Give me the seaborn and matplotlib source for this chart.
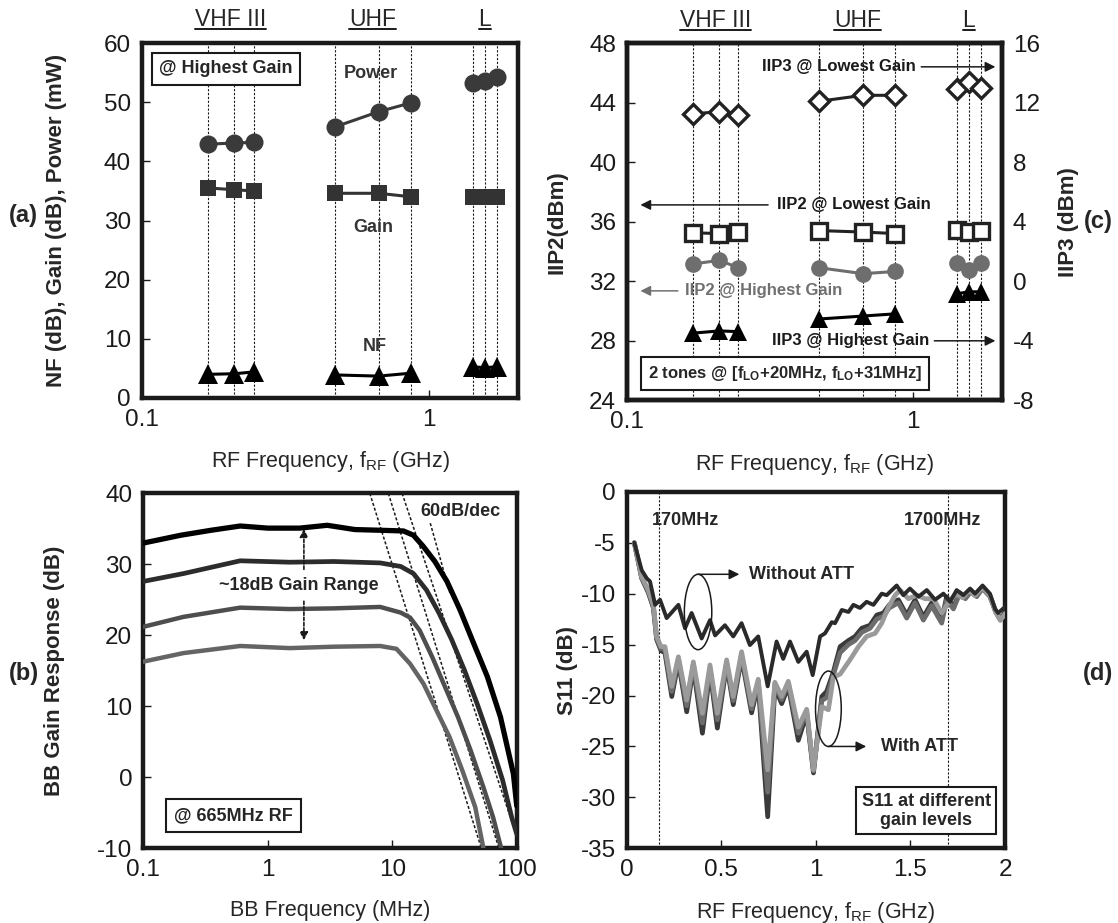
import numpy as np
import pandas as pd
import matplotlib
matplotlib.use('Agg')
import matplotlib.pyplot as plt
from matplotlib.lines import Line2D
from matplotlib.patches import Ellipse
import seaborn as sns

# ---------------- data ----------------
band_names = ['VHF III', 'UHF', 'L']
band_freq = [[0.17, 0.21, 0.245], [0.47, 0.67, 0.87], [1.43, 1.57, 1.73]]

# (a) @ highest gain
power_mw = [[42.9, 43.1, 43.2], [45.8, 48.4, 49.9], [53.3, 53.5, 54.3]]
gain_db = [[35.5, 35.2, 35.0], [34.6, 34.6, 34.0], [33.9, 33.9, 34.0]]
nf_db = [[4.0, 4.1, 4.4], [3.9, 3.7, 4.2], [5.3, 5.1, 5.3]]

# (c) linearity
iip3_lowest = [[11.25, 11.4, 11.2], [12.1, 12.5, 12.5], [12.9, 13.4, 13.0]]
iip2_lowest = [[35.25, 35.2, 35.3], [35.4, 35.3, 35.2], [35.45, 35.3, 35.4]]
iip2_highest = [[33.15, 33.4, 32.9], [32.9, 32.5, 32.65], [33.25, 32.75, 33.25]]
iip3_highest = [[-3.5, -3.35, -3.4], [-2.55, -2.35, -2.2], [-0.85, -0.72, -0.72]]

# (b) BB gain response, 4 gain settings
bb_f_1 = [0.1, 0.2, 0.35, 0.6, 1.0, 1.8, 3.0, 5.0, 8.0, 12.3, 14.8, 17.8, 22.0, 27.5, 35.0, 45.0, 58.0, 74.0, 94.0, 100.0]
bb_g_1 = [33.0, 34.1, 34.8, 35.4, 35.1, 35.1, 35.5, 34.9, 34.8, 34.7, 34.1, 32.5, 30.4, 27.6, 23.6, 18.9, 14.2, 8.5, 0.5, -4.0]
bb_f_2 = [0.1, 0.21, 0.6, 1.5, 3.4, 8.0, 11.7, 14.8, 18.8, 23.8, 30.0, 38.0, 48.0, 61.0, 77.0, 91.0, 100.0]
bb_g_2 = [27.6, 28.7, 30.5, 30.3, 30.4, 30.2, 29.7, 28.7, 26.4, 23.1, 19.4, 15.1, 10.4, 5.2, -0.4, -5.6, -8.0]
bb_f_3 = [0.1, 0.21, 0.6, 1.5, 3.4, 8.0, 11.7, 13.9, 16.6, 21.0, 26.6, 33.7, 42.6, 54.0, 64.5, 75.0]
bb_g_3 = [21.2, 22.6, 23.9, 23.7, 23.8, 24.0, 23.2, 22.5, 20.7, 16.9, 12.7, 8.5, 3.8, -1.4, -5.6, -10.0]
bb_f_4 = [0.1, 0.21, 0.6, 1.5, 3.4, 8.0, 10.8, 13.9, 17.8, 22.7, 28.8, 36.5, 46.4, 54.0]
bb_g_4 = [16.3, 17.5, 18.5, 18.2, 18.4, 18.5, 18.1, 16.0, 13.2, 9.4, 5.7, 1.0, -4.2, -10.0]
# 60dB/dec guide lines: start and end points
slope_f = [[6.6, 52.0], [9.3, 72.0], [12.0, 100.0], [20.2, 29.0]]
slope_g = [[40.0, -10.0], [40.0, -10.0], [40.0, -8.3], [35.8, 26.0]]

# (d) S11
s11_f_wo = [0.04, 0.079, 0.106, 0.123, 0.15, 0.176, 0.211, 0.273, 0.308, 0.343, 0.396, 0.44, 0.467, 0.519,
            0.563, 0.607, 0.651, 0.695, 0.745, 0.792, 0.827, 0.863, 0.907, 0.951, 0.983, 1.022, 1.048, 1.084,
            1.101, 1.137, 1.172, 1.198, 1.233, 1.268, 1.304, 1.348, 1.374, 1.427, 1.462, 1.497, 1.542, 1.586,
            1.63, 1.674, 1.709, 1.744, 1.779, 1.815, 1.841, 1.881, 1.92, 1.947, 1.963, 2.0]
s11_wo = [-5.0, -7.7, -8.5, -8.8, -11.1, -10.6, -12.4, -11.1, -13.4, -11.9, -14.4, -12.6, -14.1, -13.1,
          -14.2, -12.9, -15.05, -14.2, -19.1, -14.7, -16.4, -14.7, -16.7, -15.7, -18.0, -14.2, -13.9, -12.8,
          -12.9, -11.6, -11.8, -11.1, -11.4, -10.8, -11.1, -10.0, -10.15, -9.2, -10.15, -9.5, -10.3, -9.65,
          -10.6, -10.0, -10.8, -9.65, -10.15, -9.5, -10.0, -9.2, -10.0, -11.5, -11.9, -11.3]
s11_f_att = [0.04, 0.079, 0.114, 0.141, 0.158, 0.181, 0.202, 0.238, 0.273, 0.317, 0.352, 0.40, 0.44, 0.479,
             0.528, 0.563, 0.607, 0.66, 0.695, 0.745, 0.783, 0.819, 0.854, 0.907, 0.951, 0.987, 1.031, 1.057,
             1.092, 1.128, 1.172, 1.207, 1.242, 1.286, 1.322, 1.357, 1.388, 1.436, 1.48, 1.524, 1.568, 1.612,
             1.665, 1.691, 1.727, 1.76, 1.79, 1.82, 1.85, 1.88, 1.92, 1.95, 1.975, 2.0]
s11_att_dark = [-5.0, -8.5, -9.9, -11.4, -14.5, -15.6, -15.8, -20.1, -16.7, -21.6, -17.2, -23.7, -17.6, -23.2,
                -17.0, -20.9, -16.3, -21.7, -18.9, -31.9, -19.2, -20.8, -19.1, -24.4, -21.8, -27.6, -20.1, -19.6,
                -17.7, -15.2, -14.6, -14.2, -13.4, -13.1, -12.1, -11.9, -11.1, -10.6, -12.1, -10.6, -12.3, -10.9,
                -12.6, -10.3, -11.3, -9.9, -10.4, -9.7, -10.2, -9.4, -10.2, -11.7, -12.5, -11.8]
s11_att_mid = [-5.0, -8.4, -9.8, -11.3, -14.4, -15.4, -15.5, -19.6, -16.4, -21.0, -16.9, -22.7, -17.3, -22.4,
               -16.8, -20.5, -16.0, -21.3, -18.6, -29.5, -18.9, -20.4, -18.8, -23.7, -21.5, -27.4, -20.5, -20.2,
               -18.0, -15.8, -15.0, -14.6, -13.8, -13.4, -12.5, -12.2, -11.4, -10.9, -12.4, -10.9, -12.6, -11.2,
               -12.9, -10.6, -11.5, -10.0, -10.5, -9.8, -10.3, -9.5, -10.3, -11.8, -12.6, -11.9]
s11_f_light = [0.04, 0.079, 0.114, 0.141, 0.158, 0.181, 0.202, 0.238, 0.273, 0.317, 0.352, 0.40, 0.44, 0.479,
               0.528, 0.563, 0.607, 0.66, 0.695, 0.745, 0.783, 0.819, 0.854, 0.907, 0.951, 0.987, 1.031, 1.066,
               1.092, 1.128, 1.18, 1.225, 1.268, 1.313, 1.348, 1.384, 1.419, 1.445, 1.489, 1.533, 1.577, 1.621,
               1.665, 1.70, 1.74, 1.775, 1.81, 1.84, 1.88, 1.92, 1.95, 1.975, 2.0]
s11_att_light = [-5.0, -8.35, -9.65, -11.1, -14.2, -15.2, -15.2, -19.1, -16.2, -20.45, -16.7, -21.75, -17.0, -21.75,
                 -16.5, -20.1, -15.7, -20.9, -18.4, -27.3, -18.7, -20.1, -18.6, -23.1, -21.35, -27.3, -21.1, -21.4,
                 -18.2, -17.9, -16.5, -15.2, -14.2, -13.9, -12.9, -11.3, -10.15, -9.65, -10.5, -10.15, -10.5, -10.5,
                 -11.9, -10.9, -10.0, -10.4, -9.7, -10.2, -9.4, -10.2, -11.8, -12.6, -12.0]
s11_markers = [0.17, 1.7]

# ---------------- style ----------------
sns.set_theme(style='white')
plt.rcParams['font.family'] = ['Liberation Sans', 'DejaVu Sans']
plt.rcParams['axes.unicode_minus'] = False
plt.rcParams['mathtext.default'] = 'regular'

TICK = 17.5
LAB = 15.5
TXT = 13
FRAME = 3.2


def band_frame(values):
    return pd.DataFrame({
        'freq': np.concatenate(band_freq),
        'value': np.concatenate(values),
        'band': np.repeat(band_names, 3),
    })


def frame_axes(ax):
    for s in ax.spines.values():
        s.set_visible(True)
        s.set_linewidth(FRAME)
        s.set_color('k')
    ax.tick_params(direction='in', length=6, width=1, labelsize=TICK, pad=8, colors='k',
                   left=True, bottom=True, top=False, right=False)
    ax.grid(False)


def band_lines(ax, values, color, marker, ms, mfc=None, mew=0):
    sns.lineplot(data=band_frame(values), x='freq', y='value', units='band', estimator=None,
                 ax=ax, color=color, lw=2.2, marker=marker, ms=ms,
                 mfc=mfc or color, mec=color, mew=mew, legend=False, zorder=3)


def log_band_axis(ax):
    ax.set_xscale('log')
    ax.set_xlim(0.1, 2.05)
    ax.set_xticks([0.1, 1])
    ax.set_xticklabels(['0.1', '1'])
    ax.minorticks_off()
    for fs in band_freq:
        for f in fs:
            ax.axvline(f, color='k', lw=0.8, ls=(0, (2, 1.5)), zorder=1)


fig = plt.figure(figsize=(11.18, 9.23), dpi=100)
ax_a = fig.add_axes([0.1270, 0.5688, 0.3363, 0.3846])
ax_c = fig.add_axes([0.5611, 0.5666, 0.3349, 0.3865])
ax_b = fig.add_axes([0.1282, 0.0809, 0.3340, 0.3846])
ax_d = fig.add_axes([0.5606, 0.0809, 0.3384, 0.3863])

band_texts = []

# ---------------- (a) ----------------
log_band_axis(ax_a)
band_lines(ax_a, power_mw, '#3a3a3a', 'o', 13)
band_lines(ax_a, gain_db, '#333333', 's', 12)
band_lines(ax_a, nf_db, 'black', '^', 14)
ax_a.set_ylim(0, 60)
ax_a.set_yticks(range(0, 61, 10))
frame_axes(ax_a)
ax_a.set_xlabel('RF Frequency, f$_\\mathregular{RF}$ (GHz)', fontsize=LAB)
ax_a.set_ylabel('NF (dB), Gain (dB), Power (mW)', fontsize=16, fontweight='bold')
ax_a.xaxis.set_label_coords(0.5, -0.145)
ax_a.yaxis.set_label_coords(-0.20, 0.5)
ax_a.text(0.223, 0.927, '@ Highest Gain', transform=ax_a.transAxes, ha='center', va='center',
          fontsize=TXT, fontweight='bold',
          bbox=dict(boxstyle='square,pad=0.4', fc='white', ec='k', lw=1.5))
for label, xf, yf in [('Power', 0.608, 0.913), ('Gain', 0.614, 0.479), ('NF', 0.62, 0.144)]:
    ax_a.text(xf, yf, label, transform=ax_a.transAxes, ha='center', va='center',
              fontsize=TXT, fontweight='bold', color='#333333')

# ---------------- (c) ----------------
log_band_axis(ax_c)
ax_c2 = ax_c.twinx()
band_lines(ax_c, iip2_lowest, '#222222', 's', 11, mfc='white', mew=2.4)
band_lines(ax_c, iip2_highest, '#6e6e6e', 'o', 12)
band_lines(ax_c2, iip3_lowest, '#222222', 'D', 10, mfc='white', mew=2.4)
band_lines(ax_c2, iip3_highest, 'black', '^', 13)
ax_c.set_ylim(24, 48)
ax_c.set_yticks(range(24, 49, 4))
ax_c2.set_ylim(-8, 16)
ax_c2.set_yticks(range(-8, 17, 4))
ax_c2.set_xlim(0.1, 2.05)
frame_axes(ax_c)
frame_axes(ax_c2)
ax_c2.tick_params(left=False, right=True, labelleft=False, labelright=True, length=0)
ax_c.set_xlabel('RF Frequency, f$_\\mathregular{RF}$ (GHz)', fontsize=LAB)
ax_c.set_ylabel('IIP2(dBm)', fontsize=16, fontweight='bold')
ax_c2.set_ylabel('IIP3 (dBm)', fontsize=16, fontweight='bold')
ax_c.xaxis.set_label_coords(0.5, -0.145)
ax_c.yaxis.set_label_coords(-0.16, 0.5)
ax_c2.yaxis.set_label_coords(1.15, 0.5)

arrow_k = dict(arrowstyle='-|>', color='k', lw=1.1, mutation_scale=15, shrinkA=0, shrinkB=0)
arrow_g = dict(arrowstyle='-|>', color='#707070', lw=1.1, mutation_scale=15, shrinkA=0, shrinkB=0)
notes_c = [
    ('IIP3 @ Lowest Gain', 0.565, 0.934, 0.785, 0.983, 'k'),
    ('IIP2 @ Lowest Gain', 0.606, 0.547, 0.376, 0.035, 'k'),
    ('IIP2 @ Highest Gain', 0.365, 0.306, 0.135, 0.035, '#707070'),
    ('IIP3 @ Highest Gain', 0.596, 0.166, 0.82, 0.983, 'k'),
]
for label, xt, yt, xa0, xa1, col in notes_c:
    ax_c.text(xt, yt, label, transform=ax_c.transAxes, ha='center', va='center',
              fontsize=12, fontweight='bold', color=col, zorder=5)
    ax_c.annotate('', xy=(xa1, yt), xytext=(xa0, yt), xycoords='axes fraction',
                  textcoords='axes fraction', arrowprops=arrow_k if col == 'k' else arrow_g)
ax_c.text(0.421, 0.074, '2 tones @ [f$_\\mathregular{LO}$+20MHz, f$_\\mathregular{LO}$+31MHz]',
          transform=ax_c.transAxes, ha='center', va='center', fontsize=12, fontweight='bold',
          bbox=dict(boxstyle='square,pad=0.4', fc='white', ec='k', lw=1.5), zorder=6)

for ax in (ax_a, ax_c):
    for name, fs in zip(band_names, band_freq):
        t = ax.text(np.sqrt(fs[0] * fs[-1]), 1.065, name, transform=ax.get_xaxis_transform(),
                    ha='center', va='center', fontsize=16.5)
        band_texts.append(t)

# ---------------- (b) ----------------
ax_b.set_xscale('log')
for fs, gs in zip(slope_f, slope_g):
    ax_b.plot(fs, gs, color='k', lw=1.1, ls=(0, (2, 1.3)), zorder=2)
for fs, gs, col, lw in [(bb_f_4, bb_g_4, '#646464', 3.2), (bb_f_3, bb_g_3, '#4e4e4e', 3.2),
                        (bb_f_2, bb_g_2, '#2c2c2c', 3.4), (bb_f_1, bb_g_1, 'black', 3.8)]:
    sns.lineplot(x=fs, y=gs, ax=ax_b, color=col, lw=lw, estimator=None,
                 solid_joinstyle='round', solid_capstyle='round', zorder=3)
ax_b.set_xlim(0.1, 100)
ax_b.set_ylim(-10, 40)
ax_b.set_xticks([0.1, 1, 10, 100])
ax_b.set_xticklabels(['0.1', '1', '10', '100'])
ax_b.minorticks_off()
ax_b.set_yticks(range(-10, 41, 10))
frame_axes(ax_b)
ax_b.set_xlabel('BB Frequency (MHz)', fontsize=LAB)
ax_b.set_ylabel('BB Gain Response (dB)', fontsize=16, fontweight='bold')
ax_b.xaxis.set_label_coords(0.5, -0.145)
ax_b.yaxis.set_label_coords(-0.21, 0.5)
dash_arrow = dict(arrowstyle='-|>', color='k', lw=1.2, ls=(0, (2, 1.2)), mutation_scale=12,
                  shrinkA=0, shrinkB=0)
ax_b.annotate('', xy=(1.95, 35.0), xytext=(1.95, 29.3), arrowprops=dash_arrow)
ax_b.annotate('', xy=(1.95, 19.3), xytext=(1.95, 24.8), arrowprops=dash_arrow)
ax_b.text(1.77, 26.95, '~18dB Gain Range', ha='center', va='center', fontsize=TXT, fontweight='bold')
ax_b.text(0.849, 0.95, '60dB/dec', transform=ax_b.transAxes, ha='center', va='center',
          fontsize=TXT, fontweight='bold')
ax_b.text(0.242, 0.093, '@ 665MHz RF', transform=ax_b.transAxes, ha='center', va='center',
          fontsize=TXT, fontweight='bold',
          bbox=dict(boxstyle='square,pad=0.45', fc='white', ec='k', lw=1.5))

# ---------------- (d) ----------------
for f in s11_markers:
    ax_d.axvline(f, color='k', lw=0.8, ls=(0, (2, 1.5)), zorder=1)
sns.lineplot(x=s11_f_att, y=s11_att_dark, ax=ax_d, color='#3a3a3a', lw=3.4, estimator=None,
             sort=False, solid_joinstyle='round', zorder=2)
sns.lineplot(x=s11_f_att, y=s11_att_mid, ax=ax_d, color='#6c6c6c', lw=3.4, estimator=None,
             sort=False, solid_joinstyle='round', zorder=3)
sns.lineplot(x=s11_f_light, y=s11_att_light, ax=ax_d, color='#9a9a9a', lw=3.4, estimator=None,
             sort=False, solid_joinstyle='round', zorder=4)
sns.lineplot(x=s11_f_wo, y=s11_wo, ax=ax_d, color='#2a2a2a', lw=2.8, estimator=None,
             sort=False, solid_joinstyle='round', zorder=5)
ax_d.set_xlim(0, 2)
ax_d.set_ylim(-35, 0)
ax_d.set_xticks([0, 0.5, 1, 1.5, 2])
ax_d.set_xticklabels(['0', '0.5', '1', '1.5', '2'])
ax_d.set_yticks(range(-35, 1, 5))
frame_axes(ax_d)
ax_d.set_xlabel('RF Frequency, f$_\\mathregular{RF}$ (GHz)', fontsize=LAB)
ax_d.set_ylabel('S11 (dB)', fontsize=16, fontweight='bold')
ax_d.xaxis.set_label_coords(0.5, -0.145)
ax_d.yaxis.set_label_coords(-0.13, 0.5)
ax_d.text(0.31, -2.8, '170MHz', ha='center', va='center', fontsize=TXT, fontweight='bold')
ax_d.text(1.668, -2.8, '1700MHz', ha='center', va='center', fontsize=TXT, fontweight='bold')
ax_d.add_patch(Ellipse((0.377, -11.8), 0.145, 7.4, fill=False, ec='k', lw=1.1, zorder=6))
ax_d.add_patch(Ellipse((1.066, -21.3), 0.136, 7.4, fill=False, ec='k', lw=1.1, zorder=6))
ax_d.annotate('', xy=(0.595, -8.1), xytext=(0.377, -8.1), arrowprops=arrow_k)
ax_d.annotate('', xy=(1.266, -25.0), xytext=(1.066, -25.0), arrowprops=arrow_k)
ax_d.text(0.645, -8.1, 'Without ATT', ha='left', va='center', fontsize=TXT, fontweight='bold')
ax_d.text(1.345, -25.0, 'With ATT', ha='left', va='center', fontsize=TXT, fontweight='bold')
ax_d.text(1.583, -31.3, 'S11 at different\ngain levels', ha='center', va='center', fontsize=TXT,
          fontweight='bold', linespacing=1.15,
          bbox=dict(boxstyle='square,pad=0.3', fc='white', ec='k', lw=1.5), zorder=7)

# panel letters
for letter, xf, yf in [('(a)', 0.021, 0.767), ('(c)', 0.982, 0.760),
                       ('(b)', 0.021, 0.27), ('(d)', 0.982, 0.27)]:
    fig.text(xf, yf, letter, ha='center', va='center', fontsize=17, fontweight='bold')

# underline the band names
fig.canvas.draw()
renderer = fig.canvas.get_renderer()
inv = fig.transFigure.inverted()
for t in band_texts:
    bb = t.get_window_extent(renderer=renderer)
    (x0, y0), (x1, _) = inv.transform([(bb.x0, bb.y0 + 2), (bb.x1, bb.y0)])
    fig.add_artist(Line2D([x0, x1], [y0, y0], transform=fig.transFigure, color='k', lw=1.4))

fig.savefig('out.png', dpi=100)
